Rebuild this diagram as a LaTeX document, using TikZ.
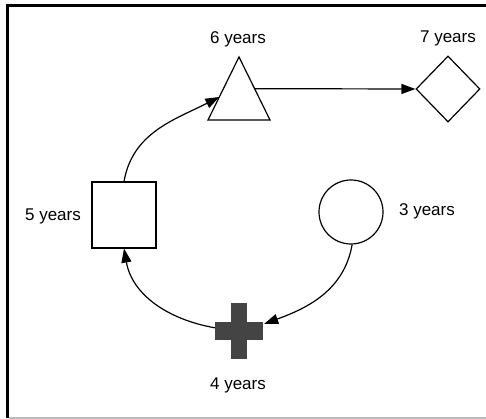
\documentclass[tikz,border=0pt]{standalone}
\usepackage{fontspec}
\setmainfont{Liberation Sans}
\usetikzlibrary{shapes.geometric,arrows.meta,calc}
\definecolor{crossgray}{HTML}{444444}
\definecolor{rulegray}{HTML}{BBBBBB}

\begin{document}
\begin{tikzpicture}[x=1pt,y=1pt,
  figure/.style={draw=black,line width=1.2pt,fill=white,inner sep=0pt},
  crossbar/.style={fill=crossgray,inner sep=0pt},
  lbl/.style={font=\fontsize{17}{19}\selectfont,anchor=base,inner sep=0pt},
  link/.style={line width=1.2pt,-{Triangle[length=14pt,width=10pt]}}]
\useasboundingbox (0,0) rectangle (486,419);

% outer frame
\draw[line width=2.5pt,line join=miter] (7.3,1) -- (7.3,413.5) -- (486,413.5);
\draw[line width=1.5pt,rulegray] (8.5,0.75) -- (486,0.75);

% triangle (6 years)
\coordinate (tA) at (239,362);
\coordinate (tL) at (208,299);
\coordinate (tR) at (270,299);
\draw[line width=1.2pt,line join=miter] (tA) -- (tL) -- (tR) -- cycle;

% other figures
\node[figure,minimum width=64pt,minimum height=66pt] (sq) at (124,204) {};
\node[figure,circle,minimum size=64pt] (ci) at (351,207) {};
\node[figure,diamond,minimum width=64pt,minimum height=66pt] (di) at (448,330) {};
\node[crossbar,minimum width=48pt,minimum height=18pt] (crH) at (239,88) {};
\node[crossbar,minimum width=16pt,minimum height=56pt] (crV) at (239,88) {};

% labels
\node[lbl] (l6) at (238,375.5) {6 years};
\node[lbl] (l7) at (448,376) {7 years};
\node[lbl] (l5) at (53,198) {5 years};
\node[lbl] (l3) at (427,203) {3 years};
\node[lbl] (l4) at (238,29) {4 years};

% connectors
\draw[link] (sq.north) to[out=80,in=207] ($(tA)!0.635!(tL)$);
\draw[link] ($(tA)!0.503!(tR)$) -- (di.west);
\draw[link] (ci.-88) to[out=-100,in=20] ($(crH.north east)+(1,-2)$);
\draw[link] ($(crH.north west)+(0,-6)$) to[out=170,in=-80] (sq.south);
\end{tikzpicture}
\end{document}
